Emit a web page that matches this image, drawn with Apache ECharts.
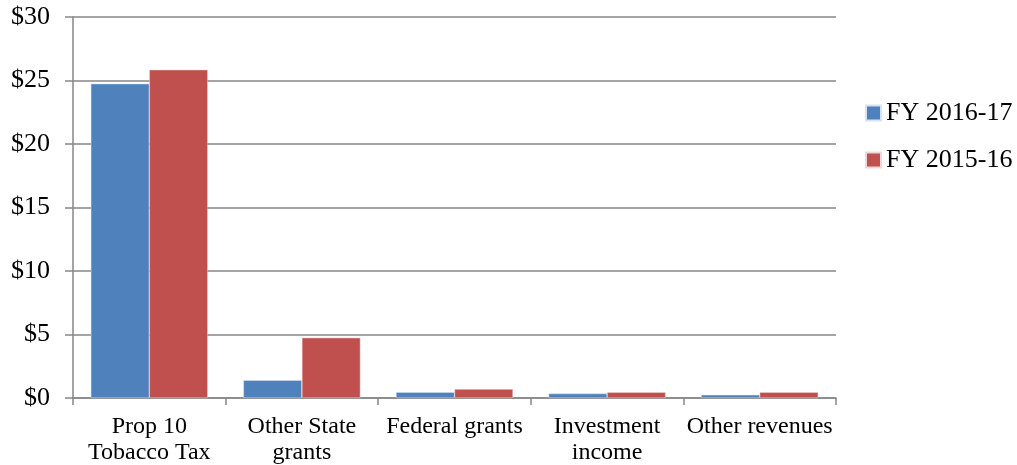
<!DOCTYPE html>
<html><head><meta charset="utf-8">
<script src="https://cdn.jsdelivr.net/npm/echarts@6/dist/echarts.min.js"></script>
<style>html,body{margin:0;padding:0;background:#fff}#c{width:1017px;height:465px}</style>
</head><body><div id="c"></div>
<script>
const categories = ["Prop 10\nTobacco Tax", "Other State\ngrants", "Federal grants", "Investment\nincome", "Other revenues"];
const fy1617 = [24.75, 1.4, 0.45, 0.35, 0.25];
const fy1516 = [25.85, 4.75, 0.7, 0.45, 0.45];
const yTicks = [0, 5, 10, 15, 20, 25, 30];
const font = "'Liberation Serif', 'Times New Roman', serif";
const chart = echarts.init(document.getElementById('c'));
chart.setOption({
  animation: false,
  grid: {left: 73, right: 181, top: 17, bottom: 67, outerBoundsMode: 'none', containLabel: false},
  legend: {
    orient: 'vertical', left: 860, top: 95, itemWidth: 15, itemHeight: 15, itemGap: 21,
    icon: 'rect',
    textStyle: {fontFamily: font, fontSize: 26, color: '#000'},
    data: ['FY 2016-17', 'FY 2015-16']
  },
  xAxis: {
    type: 'category', data: categories,
    axisLine: {lineStyle: {color: '#868686', width: 1.5}},
    axisTick: {show: true, length: 7, lineStyle: {color: '#868686', width: 1.5}},
    axisLabel: {fontFamily: font, fontSize: 24, color: '#000', margin: 16, lineHeight: 26, interval: 0}
  },
  yAxis: {
    type: 'value', min: 0, max: 30, interval: 5,
    axisLine: {show: true, lineStyle: {color: '#868686', width: 1.5}},
    axisTick: {show: true, length: 8, lineStyle: {color: '#868686', width: 1.5}},
    splitLine: {lineStyle: {color: '#868686', width: 1.5}},
    axisLabel: {fontFamily: font, fontSize: 26, color: '#000', margin: 23,
      formatter: v => yTicks.includes(v) ? '$' + v : ''}
  },
  series: [
    {name: 'FY 2016-17', type: 'bar', data: fy1617, barWidth: 58.5, barGap: '0%',
     itemStyle: {color: '#4F81BD', borderColor: '#d8e2f0', borderWidth: 0.5}},
    {name: 'FY 2015-16', type: 'bar', data: fy1516, barWidth: 58.5, barGap: '0%',
     itemStyle: {color: '#C0504D', borderColor: '#f0d8d8', borderWidth: 0.5}}
  ]
});
</script></body></html>
